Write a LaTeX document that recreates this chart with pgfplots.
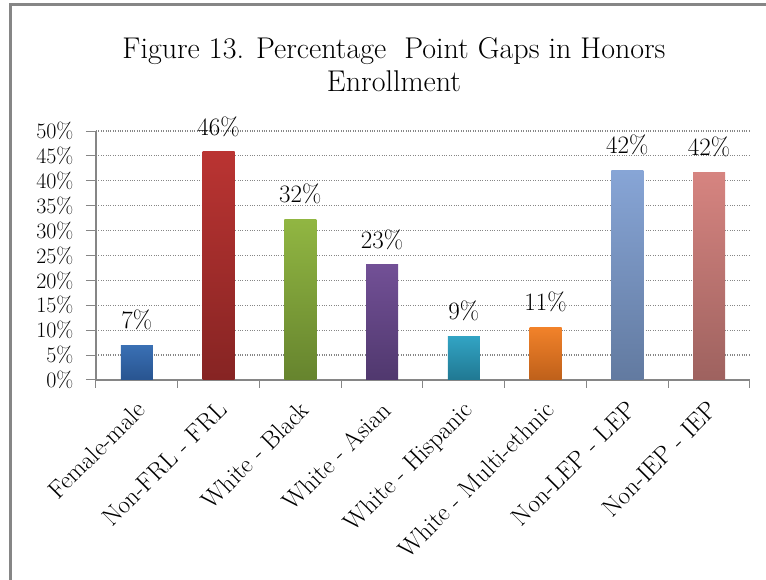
\documentclass[border=0pt]{standalone}
\usepackage{pgfplots}
\pgfplotsset{compat=1.18}
\usepackage{fontspec}
\setmainfont{Latin Modern Roman}
\definecolor{axgray}{RGB}{134,134,134}
\definecolor{b1t}{RGB}{58,112,180}\definecolor{b1b}{RGB}{40,84,144}
\definecolor{b2t}{RGB}{186,52,50}\definecolor{b2b}{RGB}{134,36,35}
\definecolor{b3t}{RGB}{145,182,66}\definecolor{b3b}{RGB}{102,132,46}
\definecolor{b4t}{RGB}{114,80,150}\definecolor{b4b}{RGB}{80,56,110}
\definecolor{b5t}{RGB}{50,164,196}\definecolor{b5b}{RGB}{32,120,146}
\definecolor{b6t}{RGB}{242,130,42}\definecolor{b6b}{RGB}{190,96,26}
\definecolor{b7t}{RGB}{135,165,214}\definecolor{b7b}{RGB}{98,122,160}
\definecolor{b8t}{RGB}{214,132,128}\definecolor{b8b}{RGB}{158,98,95}
\begin{document}
\begin{tikzpicture}[x=1pt,y=1pt]
\useasboundingbox (0,0) rectangle (766,580);
\draw[axgray,line width=3pt] (10.5,-20) -- (10.5,575) -- (800,575);
\node[align=center,font=\fontsize{30}{33}\selectfont,text=black] at (394,515) {Figure 13. Percentage\ \ Point Gaps in Honors\\Enrollment};
\begin{axis}[
  at={(96pt,200pt)}, anchor=south west,
  scale only axis, width=654pt, height=249pt,
  xmin=-0.5, xmax=7.5, ymin=0, ymax=50,
  axis lines=left, axis line style={axgray,line width=1.5pt,-},
  ybar, bar width=32pt,
  xtick={0,...,7},
  xticklabels={Female-male,Non-FRL - FRL,White - Black,White - Asian,White - Hispanic,White - Multi-ethnic,Non-LEP - LEP,Non-IEP - IEP},
  x tick label style={rotate=45,anchor=north east,font=\fontsize{25}{28}\selectfont,inner sep=1pt,xshift=-7pt,yshift=-4pt},
  major x tick style={draw=none},
  minor xtick={-0.5,0.5,...,7.5},
  minor x tick style={axgray,line width=1pt},
  minor tick length=8pt,
  ytick={0,5,...,50},
  yticklabel={\pgfmathprintnumber{\tick}\%},
  y tick label style={font=\fontsize{22}{24}\selectfont,xshift=-9pt},
  /pgf/number format/assume math mode=true,
  major y tick style={axgray,line width=1pt},
  major tick length=10pt,
  tick align=outside,
  ymajorgrids, grid style={axgray,dotted,line width=1.2pt},
  nodes near coords={\pgfmathprintnumber[fixed,precision=0]{\pgfplotspointmeta}\%},
  every node near coord/.style={font=\fontsize{25}{28}\selectfont,anchor=south,yshift=12pt,text=black},
  clip=false,
]
\addplot[bar shift=0pt,draw=none,top color=b1t,bottom color=b1b] coordinates {(0,7.0)};
\addplot[bar shift=0pt,draw=none,top color=b2t,bottom color=b2b] coordinates {(1,45.8)};
\addplot[bar shift=0pt,draw=none,top color=b3t,bottom color=b3b] coordinates {(2,32.3)};
\addplot[bar shift=0pt,draw=none,top color=b4t,bottom color=b4b] coordinates {(3,23.1)};
\addplot[bar shift=0pt,draw=none,top color=b5t,bottom color=b5b] coordinates {(4,8.8)};
\addplot[bar shift=0pt,draw=none,top color=b6t,bottom color=b6b] coordinates {(5,10.6)};
\addplot[bar shift=0pt,draw=none,top color=b7t,bottom color=b7b] coordinates {(6,42.0)};
\addplot[bar shift=0pt,draw=none,top color=b8t,bottom color=b8b] coordinates {(7,41.6)};
\end{axis}
\end{tikzpicture}
\end{document}
